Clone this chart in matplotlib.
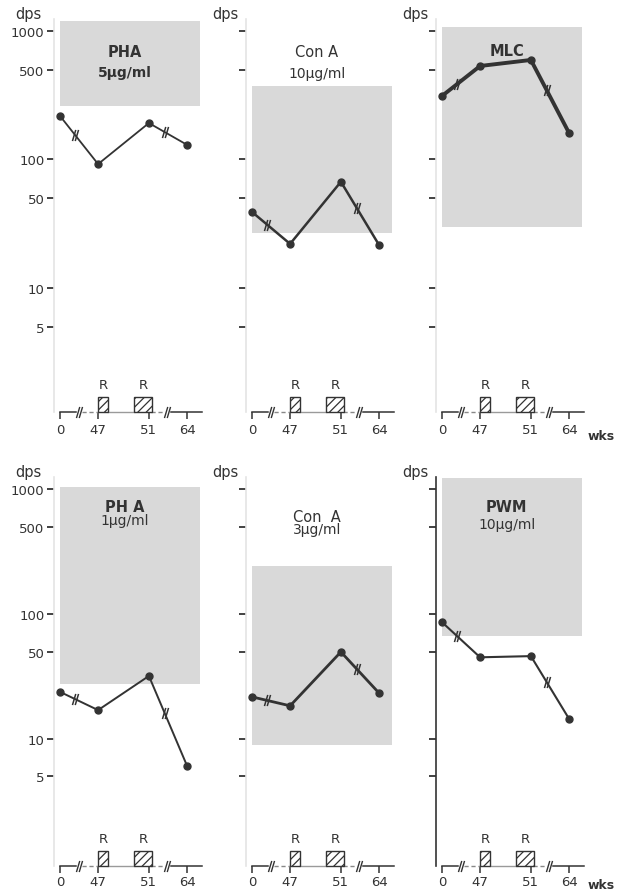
import matplotlib.pyplot as plt
import matplotlib.transforms as mtransforms
from matplotlib.patches import Rectangle
from matplotlib.path import Path
from matplotlib.ticker import NullLocator
import numpy as np

# Daten (Wochen, dps-Werte)
weeks = [0, 47, 51, 64]
week_labels = ['0', '47', '51', '64']
rad_periods = [(47.0, 47.8), (49.85, 51.9)]

titles = ['PHA', 'Con A', 'MLC', 'PH A', 'Con  A', 'PWM']
doses = ['5µg/ml', '10µg/ml', '', '1µg/ml', '3µg/ml', '10µg/ml']

pha5 = [218, 92, 192, 130]
cona10 = [39, 22, 67, 21.6]
mlc = [312, 534, 595, 161]
pha1 = [23.8, 17, 31.9, 6.1]
cona3 = [21.7, 18.4, 49.7, 23.3]
pwm = [86, 45, 46, 14.5]
series = [pha5, cona10, mlc, pha1, cona3, pwm]

# Normalbereich (grau)
norm_low = [261, 26.8, 29.8, 27.5, 8.96, 66.7]
norm_high = [1197, 373, 1074, 1038, 242, 1225]

yticks = [5, 10, 50, 100, 500, 1000]

W, H = 618, 895
fig = plt.figure(figsize=(W / 100, H / 100), dpi=100)

ink = '#333333'
grey = '#d9d9d9'
plt.rcParams['hatch.linewidth'] = 0.9
plt.rcParams['hatch.color'] = ink


def wpos(w):
    # gebrochene Zeitachse
    return np.interp(w, [0, 47, 51, 64], [0, 3, 7, 10])


brk = Path([(-0.55, -1), (0.05, 1), (-0.05, -1), (0.55, 1)],
           [Path.MOVETO, Path.LINETO, Path.MOVETO, Path.LINETO])

unit = 12.7
xmin, xmax = -0.45, 11.2
x0s = [60, 252, 442]
rows = [(20, 413, (1.08, 1240)), (478, 867, (0.96, 1250))]
lws = [1.3, 1.8, 2.8, 1.4, 2.0, 1.5]
# Titelpositionen (y in dps)
title_y = [698, 698, 711, 731, 608, 731]
dose_y = [480, 471, None, 565, 479, 525]

for i in range(6):
    r, c = divmod(i, 3)
    top, bot, ylim = rows[r]
    left = x0s[c] + xmin * unit
    width = (xmax - xmin) * unit
    ax = fig.add_axes([left / W, 1 - bot / H, width / W, (bot - top) / H])
    ax.set_yscale('log')
    ax.set_xlim(xmin, xmax)
    ax.set_ylim(*ylim)
    for s in ['top', 'right', 'bottom']:
        ax.spines[s].set_visible(False)
    ax.spines['left'].set_color(ink if i == 5 else '#e4e4e4')
    ax.spines['left'].set_linewidth(1.2)

    ax.set_yticks(yticks)
    ax.yaxis.set_minor_locator(NullLocator())
    if c == 0:
        ax.set_yticklabels([str(t) for t in yticks])
    else:
        ax.set_yticklabels([])
    ax.tick_params(axis='y', length=5, width=1.3, color=ink, pad=2,
                   labelsize=9.5, labelcolor=ink)

    xp = wpos(weeks)
    ax.set_xticks(xp)
    ax.set_xticklabels(week_labels)
    ax.tick_params(axis='x', length=5, width=1.1, color=ink,
                   pad=3 if r == 0 else 1.5, labelsize=9.5, labelcolor=ink)

    # Normalbereich
    ax.add_patch(Rectangle((0, norm_low[i]), 11, norm_high[i] - norm_low[i],
                           facecolor=grey, edgecolor='none', zorder=0))

    # gebrochene x-Achse
    tr = mtransforms.blended_transform_factory(ax.transData, ax.transAxes)
    ax.plot([0, 1.25], [0, 0], color=ink, lw=1.1, transform=tr, clip_on=False)
    ax.plot([1.75, 3.0], [0, 0], color='#888888', lw=1.0, ls=(0, (3, 2)),
            transform=tr, clip_on=False)
    ax.plot([3.8, 5.85], [0, 0], color='#9a9a9a', lw=1.0, transform=tr, clip_on=False)
    ax.plot([7.2, 8.15], [0, 0], color='#888888', lw=1.0, ls=(0, (3, 2)),
            transform=tr, clip_on=False)
    ax.plot([8.75, xmax], [0, 0], color=ink, lw=1.1, transform=tr, clip_on=False)
    ax.plot([1.5, 8.45], [0, 0], ls='none', marker=brk, ms=8, mew=1.0,
            mec=ink, transform=tr, clip_on=False)

    bh = 15 / (bot - top)
    for a, b in rad_periods:
        pa, pb = wpos(a), wpos(b)
        if b > 51:
            pb = 7 + (b - 51) * 0.23
        ax.add_patch(Rectangle((pa, 0), pb - pa, bh, transform=tr,
                               facecolor='white', edgecolor=ink, lw=1.0,
                               hatch='////', clip_on=False, zorder=3))
        ax.text((pa + pb) / 2, 27 / (bot - top), 'R', transform=tr,
                ha='center', va='center', fontsize=9.5, color=ink)

    # Messwerte
    vals = series[i]
    ax.plot(xp, vals, color=ink, lw=lws[i], marker='o', ms=5,
            solid_joinstyle='round', zorder=4)
    for bp, (j, k) in [(1.2, (0, 1)), (8.25, (2, 3))]:
        f = (bp - xp[j]) / (xp[k] - xp[j])
        bv = 10 ** (np.log10(vals[j]) + f * (np.log10(vals[k]) - np.log10(vals[j])))
        ax.plot([bp], [bv], ls='none', marker=brk, ms=8, mew=1.1, mec=ink, zorder=5)

    # Beschriftung
    ax.annotate('dps', xy=(0, 1), xycoords='axes fraction',
                xytext=(-13 if c == 0 else -8, 5),
                textcoords='offset pixels', ha='right', va='center',
                fontsize=10.5, color=ink)
    bold = titles[i] in ('PHA', 'PH A', 'MLC', 'PWM')
    ax.text(5.1, title_y[i], titles[i], ha='center', va='center', fontsize=10.5,
            fontweight='bold' if bold else 'normal', color=ink)
    if doses[i]:
        ax.text(5.1, dose_y[i], doses[i], ha='center', va='center', fontsize=10,
                fontweight='semibold' if i == 0 else 'normal', color=ink)
    if c == 2:
        ax.annotate('wks', xy=(1, 0), xycoords='axes fraction',
                    xytext=(3, -24 if r == 0 else -19),
                    textcoords='offset pixels', ha='left', va='center',
                    fontsize=9, fontweight='bold', color=ink)

fig.savefig('out.png', dpi=100)
